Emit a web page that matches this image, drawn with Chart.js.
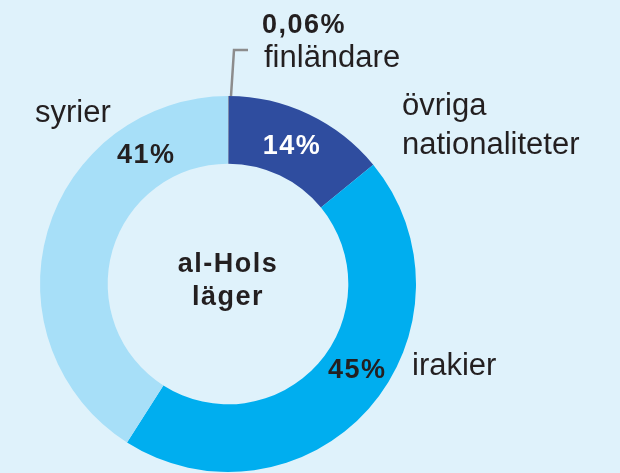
<!DOCTYPE html>
<html lang="sv">
<head>
<meta charset="utf-8">
<title>al-Hols läger</title>
<script src="https://cdn.jsdelivr.net/npm/chart.js@4"></script>
<style>
    html, body { margin: 0; padding: 0; background: #dff2fb; }
    canvas { display: block; }
</style>
</head>
<body>
<canvas id="donutCanvas" width="620" height="473"></canvas>
<script>
const categories = ['finländare', 'övriga nationaliteter', 'irakier', 'syrier'];
const values = [0.06, 14, 45, 41];
const percentLabels = ['0,06%', '14%', '45%', '41%'];
const centerTitle = ['al-Hols', 'läger'];

const sliceColors = ['#8c8c8c', '#2f4d9f', '#00aeef', '#a7dff8'];
const textColor = '#231f20';
const regularFont = '31px "Liberation Sans", Arial, sans-serif';
const boldFont = 'bold 27px "Liberation Sans", Arial, sans-serif';

// where the labels sit, as offsets from the centre of the ring
const labelSpots = [
    { pct: [34, -251], name: [36, -217], lines: ['finländare'] },
    { angle: 24.5, color: '#ffffff', name: [174, -169], lines: ['övriga', 'nationaliteter'], lineGap: 39 },
    { angle: 123, name: [184, 91], lines: ['irakier'] },
    { angle: 328, name: [-193, -162], lines: ['syrier'] }
];

const labelPlugin = {
    id: 'labelPlugin',
    beforeDraw(chart) {
        const ctx = chart.ctx;
        ctx.save();
        ctx.fillStyle = '#dff2fb';
        ctx.fillRect(0, 0, chart.width, chart.height);
        ctx.restore();
    },
    afterDraw(chart) {
        const ctx = chart.ctx;
        const arcs = chart.getDatasetMeta(0).data;
        const cx = arcs[0].x;
        const cy = arcs[0].y;
        const outer = arcs[0].outerRadius;
        const inner = arcs[0].innerRadius;
        const mid = (outer + inner) / 2;

        ctx.save();
        ctx.textBaseline = 'alphabetic';

        // leader line for the tiny slice
        ctx.strokeStyle = '#8c8c8c';
        ctx.lineWidth = 2.5;
        ctx.beginPath();
        ctx.moveTo(cx + 3, cy - outer);
        ctx.lineTo(cx + 6, cy - 234);
        ctx.lineTo(cx + 20, cy - 234);
        ctx.stroke();

        labelSpots.forEach((spot, i) => {
            ctx.letterSpacing = '1.5px';
            ctx.font = boldFont;
            ctx.fillStyle = spot.color || textColor;
            if (spot.pct) {
                ctx.textAlign = 'left';
                ctx.fillText(percentLabels[i], cx + spot.pct[0], cy + spot.pct[1]);
            } else {
                const a = spot.angle * Math.PI / 180;
                ctx.textAlign = 'center';
                ctx.fillText(percentLabels[i], cx + mid * Math.sin(a), cy - mid * Math.cos(a) + 10);
            }

            ctx.letterSpacing = '0px';
            ctx.font = regularFont;
            ctx.fillStyle = textColor;
            ctx.textAlign = 'left';
            spot.lines.forEach((line, j) => {
                ctx.fillText(line, cx + spot.name[0], cy + spot.name[1] + j * (spot.lineGap || 0));
            });
        });

        ctx.letterSpacing = '1.5px';
        ctx.font = boldFont;
        ctx.fillStyle = textColor;
        ctx.textAlign = 'center';
        ctx.fillText(centerTitle[0], cx, cy - 12);
        ctx.fillText(centerTitle[1], cx, cy + 21);
        ctx.restore();
    }
};

new Chart(document.getElementById('donutCanvas'), {
    type: 'doughnut',
    data: {
        labels: categories,
        datasets: [{
            data: values,
            backgroundColor: sliceColors,
            borderWidth: 0
        }]
    },
    options: {
        responsive: false,
        animation: false,
        cutout: '64%',
        layout: {
            padding: { left: 40, right: 204, top: 96, bottom: 1 }
        },
        plugins: {
            legend: { display: false },
            tooltip: { enabled: false }
        }
    },
    plugins: [labelPlugin]
});
</script>
</body>
</html>
